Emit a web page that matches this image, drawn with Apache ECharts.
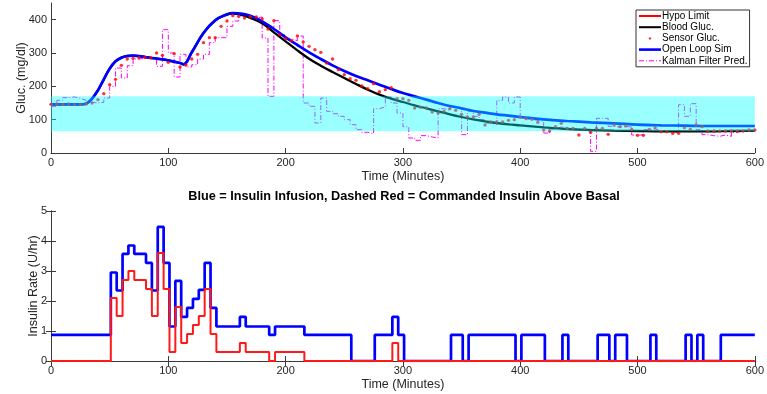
<!DOCTYPE html>
<html>
<head>
<meta charset="utf-8">
<script src="https://cdn.jsdelivr.net/npm/echarts@6/dist/echarts.min.js"></script>
<style>html,body{margin:0;padding:0;background:#fff;}#c{width:767px;height:394px;}</style>
</head>
<body>
<div id="c"></div>
<script>
// ---- Data ----
const curveT = [0,10,20,25,30,35,40,45,50,55,60,65,70,80,90,100,110,113,120,130,140,150,155,160,170,180,190,200,210,220,230,240,250,260,270,280,290,300,310,320,330,340,350,360,370,380,390,400,420,440,460,480,500,520,540,560,580,600];
const bloodGluc = [146,146,146,146,148,163,188,221,253,275,286,291,292,288,283,278,270,266,302,360,398,415,418,417,405,389,362,335,308,283,262,243,225,207,190,175,163,153,143,134,125,116,108,101,95,90,86,83,77,72,69,67,66,65,65,65,66,67];
const openLoop  = [146,146,146,146,148,163,188,221,253,275,286,291,292,288,283,278,270,266,302,360,398,416,420,419,412,395,372,347,324,302,282,263,246,231,218,205,192,180,170,160,150,141,134,126,121,116,112,108,101,96,92,89,85,83,82,81,81,81];

const sampleT = Array.from({length:121},(_,i)=>i*5); // sample times every 5 min, 0..600
const sensorGluc = [
146,147,146,147,146,146,147,150,160,178,
205,221,263,282,284,286,287,285,300,293,
272,298,258,264,282,296,331,346,346,380,
396,412,410,405,409,408,402,372,397,355,
343,337,351,333,320,310,302,270,282,250,
235,223,218,201,193,208,184,190,196,163,
163,158,135,137,135,123,120,125,133,128,
116,108,108,116,84,93,93,93,98,100,
107,103,101,92,69,66,79,89,74,74,
54,74,62,74,74,56,84,79,81,71,
53,53,71,76,64,64,59,59,76,71,
84,79,66,66,66,66,66,66,66,69,
69];
const kalmanPred = [
140,158,166,168,164,158,152,150,152,165,
200,255,225,262,282,284,286,284,260,370,
300,228,296,258,265,282,296,331,346,346,
380,396,412,410,405,408,345,170,397,355,
342,337,351,150,140,90,165,125,118,110,
100,85,70,62,58,133,138,168,150,120,
79,45,38,52,48,45,133,128,138,135,
55,125,110,100,90,85,158,168,150,168,
104,100,98,95,60,72,78,74,72,70,
70,65,5,104,104,80,78,80,78,54,
54,70,72,68,66,64,62,145,110,148,
70,55,52,50,54,50,62,65,66,66,
67];
const targetBand = [65, 170];

const infusionT = [0,51,56,61,66,71,81,86,91,96,101,106,111,116,121,126,131,136,141,161,166,186,191,216,256,276,291,296,301,341,351,356,396,401,421,436,441,466,476,481,491,511,516,541,546,551,556,571,600];
const infusion  = [0.87,2.95,2.35,3.57,3.85,3.57,3.27,2.35,4.47,3.27,1.15,2.67,1.47,1.77,2.07,2.37,3.27,1.77,1.15,1.47,1.15,0.87,1.15,0.87,0,0.87,1.47,0.87,0,0.87,0,0.87,0,0.87,0,0.87,0,0.87,0,0.87,0,0.87,0,0.87,0,0.87,0,0.87,0.87];
const commandT = [0,51,56,61,66,71,81,86,91,96,101,106,111,116,121,126,131,136,141,161,166,186,191,216,291,296,600];
const commanded = [0,2.1,1.5,2.7,3.0,2.7,2.4,1.5,3.6,2.4,0.3,1.8,0.6,0.9,1.2,1.5,2.4,0.9,0.3,0.6,0.3,0,0.3,0,0.6,0,0];

const glucTicks = [0,100,200,300,400];

// ---- Chart ----
const zip = (t, v) => t.map((x, i) => [x, v[i]]);
const FONT = "'Liberation Sans', Arial, Helvetica, sans-serif";
const AX = '#3a3a3a';
const TXT = '#262626';

// legend icons (22x10 box, invisible corner points keep the box size)
const BOX = 'M0,0L0,0M22,10L22,10';
const ICON_LINE2 = 'path://' + BOX + 'M0,4L22,4L22,6L0,6Z';
const ICON_LINE25 = 'path://' + BOX + 'M0,3.7L22,3.7L22,6.3L0,6.3Z';
const ICON_DOT = 'path://' + BOX + 'M9.8,5a1.2,1.2 0 1,0 2.4,0a1.2,1.2 0 1,0 -2.4,0Z';
const ICON_DASHDOT = 'path://' + BOX + 'M0,4.5L5,4.5L5,5.5L0,5.5ZM7,4.5L8,4.5L8,5.5L7,5.5ZM10,4.5L15,4.5L15,5.5L10,5.5ZM17,4.5L18,4.5L18,5.5L17,5.5ZM20,4.5L22,4.5L22,5.5L20,5.5Z';

function xAx(grid, pos, showLabel) {
  return {
    type: 'value', gridIndex: grid, position: pos, min: 0, max: 600, interval: 100,
    name: showLabel ? 'Time (Minutes)' : '', nameLocation: 'middle', nameGap: 17,
    nameMoveOverlap: false,
    nameTextStyle: {fontFamily: FONT, fontSize: 12.5, color: TXT},
    axisLine: {show: true, lineStyle: {color: AX, width: 1}},
    axisTick: {show: true, inside: true, length: 5, lineStyle: {color: AX}},
    axisLabel: {show: showLabel, fontFamily: FONT, fontSize: 11, color: TXT, margin: 4},
    splitLine: {show: false}
  };
}

const chart = echarts.init(document.getElementById('c'), null, {renderer: 'canvas'});
chart.setOption({
  animation: false,
  backgroundColor: '#fff',
  title: {
    text: 'Blue = Insulin Infusion, Dashed Red = Commanded Insulin Above Basal',
    left: 404, top: 190, textAlign: 'center', padding: 0,
    textStyle: {fontFamily: FONT, fontSize: 12.7, fontWeight: 'bold', color: '#000'}
  },
  legend: {
    left: 636, top: 10, orient: 'vertical',
    itemWidth: 22, itemHeight: 10, itemGap: 1.2,
    padding: [1, 2, 1, 3],
    backgroundColor: '#fff', borderColor: '#333', borderWidth: 1,
    textStyle: {fontFamily: FONT, fontSize: 10, color: '#000', padding: [0, 0, 0, -4]},
    data: [
      {name: 'Hypo Limit', icon: ICON_LINE2},
      {name: 'Blood Gluc.', icon: ICON_LINE2},
      {name: 'Sensor Gluc.', icon: ICON_DOT},
      {name: 'Open Loop Sim', icon: ICON_LINE25},
      {name: 'Kalman Filter Pred.', icon: ICON_DASHDOT}
    ]
  },
  grid: [
    {left: 51, top: 3, width: 706, height: 150},
    {left: 51, top: 211, width: 706, height: 150}
  ],
  xAxis: [
    xAx(0, 'bottom', true),
    xAx(1, 'bottom', true),
    xAx(1, 'top', false)
  ],
  yAxis: [
    {
      type: 'value', gridIndex: 0, min: 0, max: 450, interval: 100,
      name: 'Gluc. (mg/dl)', nameLocation: 'middle', nameGap: 23, nameMoveOverlap: false,
      nameTextStyle: {fontFamily: FONT, fontSize: 12.5, color: TXT},
      axisLine: {show: true, lineStyle: {color: AX}},
      axisTick: {show: true, inside: true, length: 5, lineStyle: {color: AX}, customValues: glucTicks},
      axisLabel: {fontFamily: FONT, fontSize: 11, color: TXT, margin: 4, customValues: glucTicks},
      splitLine: {show: false}
    },
    {
      type: 'value', gridIndex: 1, min: 0, max: 5, interval: 1,
      name: 'Insulin Rate (U/hr)', nameLocation: 'middle', nameGap: 11, nameMoveOverlap: false,
      nameTextStyle: {fontFamily: FONT, fontSize: 12.5, color: TXT},
      axisLine: {show: true, lineStyle: {color: AX}},
      axisTick: {show: true, inside: true, length: 5, lineStyle: {color: AX}},
      axisLabel: {fontFamily: FONT, fontSize: 11, color: TXT, margin: 4},
      splitLine: {show: false}
    },
    {
      type: 'value', gridIndex: 1, position: 'right', min: 0, max: 5, interval: 1,
      axisLine: {show: true, lineStyle: {color: AX}},
      axisTick: {show: true, inside: true, length: 5, lineStyle: {color: AX}},
      axisLabel: {show: false},
      splitLine: {show: false}
    }
  ],
  series: [
    {name: 'Hypo Limit', type: 'line', xAxisIndex: 0, yAxisIndex: 0, data: [], symbol: 'none',
     color: '#ff0000', lineStyle: {color: '#ff0000', width: 2}},
    {name: 'Kalman Filter Pred.', type: 'line', xAxisIndex: 0, yAxisIndex: 0, step: 'end',
     data: zip(sampleT, kalmanPred), symbol: 'none', z: 2,
     color: '#ff00ff', lineStyle: {color: '#ff00ff', width: 1, type: [5, 2, 1, 2]}},
    {name: 'Blood Gluc.', type: 'line', xAxisIndex: 0, yAxisIndex: 0, smooth: 0.4,
     data: zip(curveT, bloodGluc), symbol: 'none', z: 3,
     color: '#000', lineStyle: {color: '#000', width: 2.3}},
    {name: 'Open Loop Sim', type: 'line', xAxisIndex: 0, yAxisIndex: 0, smooth: 0.4,
     data: zip(curveT, openLoop), symbol: 'none', z: 4,
     color: '#0000ff', lineStyle: {color: '#0000ff', width: 2.7}},
    {name: 'Sensor Gluc.', type: 'scatter', xAxisIndex: 0, yAxisIndex: 0,
     data: zip(sampleT, sensorGluc), symbol: 'circle', symbolSize: 3.4, z: 5,
     color: '#ff0000', itemStyle: {color: '#ff0000'}},
    {name: 'band', type: 'line', xAxisIndex: 0, yAxisIndex: 0, data: [], z: 10, silent: true,
     markArea: {silent: true, z: 10, itemStyle: {color: 'rgba(0,255,255,0.4)'},
       data: [[{xAxis: 0, yAxis: targetBand[0]}, {xAxis: 600, yAxis: targetBand[1]}]]}},
    {name: 'Insulin Infusion', type: 'line', xAxisIndex: 1, yAxisIndex: 1, step: 'end',
     data: zip(infusionT, infusion), symbol: 'none', z: 3,
     lineStyle: {color: '#0000ff', width: 2.7}},
    {name: 'Commanded Insulin', type: 'line', xAxisIndex: 1, yAxisIndex: 1, step: 'end',
     data: zip(commandT, commanded), symbol: 'none', z: 4,
     lineStyle: {color: '#ff1a1a', width: 2}}
  ]
});
</script>
</body>
</html>
